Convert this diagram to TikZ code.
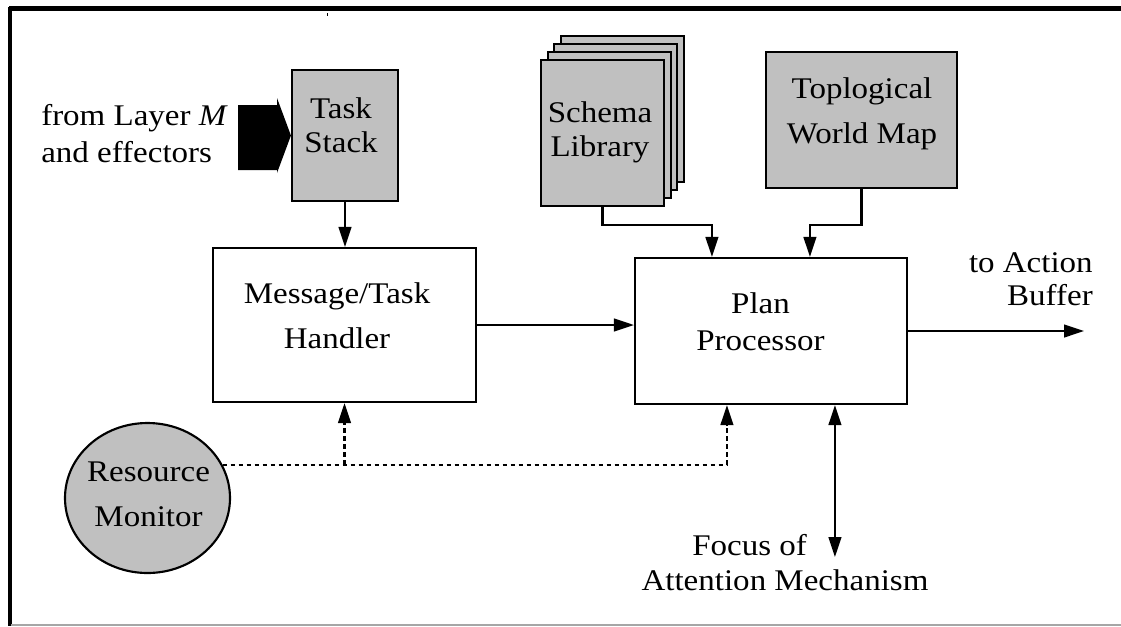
\documentclass[tikz,border=0pt]{standalone}
\usepackage{fontspec}
\setmainfont[FakeStretch=1.1]{Liberation Serif}
\usetikzlibrary{arrows.meta,calc,shapes.geometric}
\definecolor{boxgray}{RGB}{192,192,192}
\newcommand\fsz[1]{\fontsize{22.5}{#1}\selectfont}
\begin{document}
\begin{tikzpicture}[x=0.75pt,y=-0.75pt,
  box/.style={draw, line width=1.6pt, inner sep=0pt},
  gbox/.style={box, fill=boxgray},
  lbl/.style={inner sep=0pt, align=center},
  conn/.style={line width=1.6pt, -{Triangle[length=15pt,width=9.5pt]}},
  dconn/.style={conn, dash pattern=on 3.6pt off 2.4pt},
  both/.style={line width=1.6pt, {Triangle[length=15pt,width=9.5pt]}-{Triangle[length=15pt,width=9.5pt]}}]
\useasboundingbox (0,0) rectangle (1121,626);
% frame
\draw[line width=3.75pt] (9,8.5) -- (1121,8.5);
\draw[line width=3pt] (9.5,6.6) -- (9.5,626);
\draw[line width=1.2pt, gray!70] (11,624.8) -- (1121,624.8);
\draw[line width=0.75pt] (327.5,13) -- (327.5,16);
% boxes
\node[gbox, minimum width=79.5pt, minimum height=98.25pt] (ts) at (345,135.5) {};
\foreach \i/\dx/\dy in {4/20.1/-24, 3/13.4/-16, 2/6.7/-8}
  \node[gbox, minimum width=92.25pt, minimum height=109.5pt] (sl\i) at (602.5+\dx,133+\dy) {};
\node[gbox, minimum width=92.25pt, minimum height=109.5pt] (sl) at (602.5,133) {};
\node[gbox, minimum width=143.25pt, minimum height=102pt] (tw) at (861.5,120) {};
\node[box, minimum width=197.25pt, minimum height=115.5pt] (mt) at (344.5,325) {};
\node[box, minimum width=204pt, minimum height=109.5pt] (pp) at (771,331) {};
\node[gbox, ellipse, minimum width=123.75pt, minimum height=112.5pt] (rm) at (147.5,498) {};
% texts
\node[lbl, font=\fsz{25.5pt}] (tst) at (341,125.6) {Task\\Stack};
\node[lbl, font=\fsz{25.5pt}] (slt) at (600,132) {Schema\\Library};
\node[lbl, font=\fsz{33.75pt}] (twt) at (862,113.5) {Toplogical\\World Map};
\node[lbl, font=\fsz{33.75pt}] (mtt) at (337,315.3) {Message/Task\\Handler};
\node[lbl, font=\fsz{27.75pt}] (ppt) at (760.5,321.5) {Plan\\Processor};
\node[lbl, font=\fsz{33.75pt}] (rmt) at (148.5,494.3) {Resource\\Monitor};
\node[lbl, align=left, anchor=west, font=\fsz{27.75pt}] (src) at (41,133.3) {from Layer \textit{M}\\and effectors};
\node[lbl, align=right, anchor=east, font=\fsz{24.75pt}] (act) at (1093,279.3) {to Action\\Buffer};
\node[lbl, font=\fsz{26.25pt}] (foc) at (785,562.3) {Focus of\hspace*{53pt}\\Attention Mechanism};
% big input arrow
\fill (238,105) -- (277,105) -- (277,98) -- (ts.west) -- (277,173) -- (277,170) -- (238,170) -- cycle;
% connectors
\draw[conn] (ts.south) -- (ts.south |- mt.north);
\coordinate (j1) at ($(pp.north west)+(78,-32)$);
\coordinate (e1) at ($(pp.north west)+(78,0)$);
\draw[conn] (sl.south) |- (j1) -- (e1);
\coordinate (j2) at ($(pp.north west)+(176,-32)$);
\coordinate (e2) at ($(pp.north west)+(176,0)$);
\draw[conn] (tw.south) |- (j2) -- (e2);
\draw[conn] (mt.east) -- (pp.west |- mt.east);
\coordinate (out) at ($(pp.east)+(176,0)$);
\draw[conn] (pp.east) -- (out);
\coordinate (e3) at ($(pp.south west)+(93,0)$);
\draw[dconn] (rm.24) -| (e3);
\draw[dconn] (mt.south |- rm.24) -- (mt.south);
\coordinate (e4) at ($(pp.south west)+(201,0)$);
\coordinate (fa) at ($(pp.south west)+(201,152)$);
\draw[both] (e4) -- (fa);
\end{tikzpicture}
\end{document}
